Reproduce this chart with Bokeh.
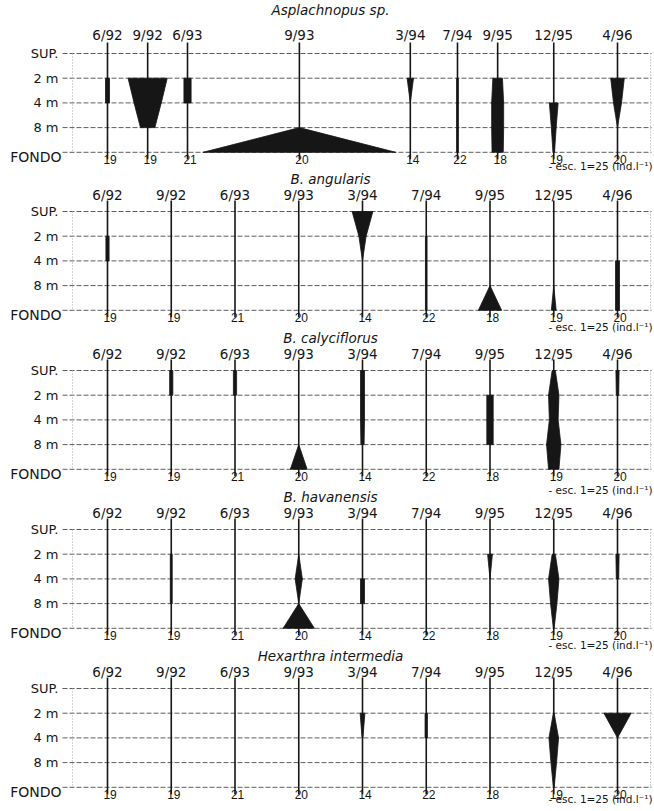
import math
from bokeh.plotting import figure
from bokeh.models import Range1d
from bokeh.core.properties import value
from bokeh.embed import file_html
from bokeh.resources import INLINE

nan = float("nan")

# ---------------- data ----------------
dates = ["6/92", "9/92", "6/93", "9/93", "3/94", "7/94", "9/95", "12/95", "4/96"]
n_samples = ["19", "19", "21", "20", "14", "22", "18", "19", "20"]
depths = ["SUP.", "2 m", "4 m", "8 m", "FONDO"]
species = ["Asplachnopus sp.", "B. angularis", "B. calyciflorus",
           "B. havanensis", "Hexarthra intermedia"]
scale_note = "- esc. 1=25 (ind.l\u207b\u00b9)"

# sampling positions along the horizontal axis (first panel is irregular)
pos_first = [0.0, 0.63, 1.255, 3.01, 4.75, 5.49, 6.12, 7.0, 8.0]
pos_other = [0, 1, 2, 3, 4, 5, 6, 7, 8]

# abundance (ind/l) per date, at SUP, 2 m, 4 m, 8 m, FONDO ; nan = not drawn
asplachnopus = [
    [nan, 25, 25, nan, nan],
    [nan, 245, 170, 90, nan],
    [nan, 45, 45, nan, nan],
    [nan, nan, nan, 0, 1205],
    [nan, 40, 0, nan, nan],
    [nan, 11, 11, 11, 11],
    [nan, 60, 75, 75, 70],
    [nan, nan, 55, 30, 10],
    [nan, 85, 50, 0, nan],
]
angularis = [
    [nan, 20, 20, nan, nan],
    [nan, nan, nan, nan, nan],
    [nan, nan, nan, nan, nan],
    [nan, nan, nan, nan, nan],
    [130, 45, 0, nan, nan],
    [nan, 10, 10, 10, 10],
    [nan, nan, nan, 0, 145],
    [nan, nan, nan, 0, 30],
    [nan, nan, 25, 25, 25],
]
calyciflorus = [
    [nan, nan, nan, nan, nan],
    [20, 20, nan, nan, nan],
    [20, 20, nan, nan, nan],
    [nan, nan, nan, 0, 105],
    [25, 25, 25, 20, nan],
    [nan, nan, nan, nan, nan],
    [nan, 40, 40, 40, nan],
    [20, 65, 55, 90, 65],
    [20, 15, nan, nan, nan],
]
havanensis = [
    [nan, nan, nan, nan, nan],
    [nan, 12, 12, 12, nan],
    [nan, nan, nan, nan, nan],
    [nan, 0, 45, 0, 195],
    [nan, nan, 25, 25, nan],
    [nan, nan, nan, nan, nan],
    [nan, 30, 0, nan, nan],
    [nan, 20, 65, 40, 5],
    [nan, 20, 15, nan, nan],
]
hexarthra = [
    [nan, nan, nan, nan, nan],
    [nan, nan, nan, nan, nan],
    [nan, nan, nan, nan, nan],
    [nan, nan, nan, nan, nan],
    [nan, 30, 5, nan, nan],
    [nan, 15, 15, nan, nan],
    [nan, nan, nan, nan, nan],
    [nan, 5, 60, 35, 5],
    [nan, 170, 0, nan, nan],
]
panels_data = [asplachnopus, angularis, calyciflorus, havanensis, hexarthra]
panel_positions = [pos_first, pos_other, pos_other, pos_other, pos_other]

# ---------------- layout ----------------
W, H = 654, 811
X0 = 107.0           # page x of position 0
XU = 63.75           # page px per position unit
PX_PER_IND = 0.16    # full kite width in px per ind/l
SUP_Y = [53, 211, 370, 529, 688]
DY = 24.7
ESC_DY = [14, 17, 21, 17, 12]


def xu(px):
    return (px - X0) / XU


p = figure(width=W, height=H, x_range=Range1d(xu(0), xu(W)),
           y_range=Range1d(H, 0), output_backend="svg",
           toolbar_location=None, x_axis_type=None, y_axis_type=None,
           min_border=0, min_border_left=0, min_border_right=0,
           min_border_top=0, min_border_bottom=0)
p.outline_line_color = None
p.grid.visible = False
p.background_fill_color = "white"
p.border_fill_color = "white"

FONT = value("DejaVu Sans")
INK = "#161616"

for k in range(5):
    top = SUP_Y[k]
    lv = [top + i * DY for i in range(5)]
    pos = panel_positions[k]
    data = panels_data[k]

    # horizontal depth lines
    gx0, gx1 = xu(62), xu(651)
    p.multi_line(xs=[[gx0, gx1]] * 5, ys=[[y, y] for y in lv],
                 line_color="#5e5e5e", line_width=1, line_dash="5 2")
    # frame borders
    p.multi_line(xs=[[xu(72), xu(72)], [xu(650), xu(650)]],
                 ys=[[lv[0], lv[4]], [lv[0], lv[4]]],
                 line_color="#a8a8a8", line_width=1, line_dash="1 2")

    # vertical sample lines
    p.segment(x0=pos, x1=pos, y0=[lv[0] - 11] * 9, y1=[lv[4] + 7] * 9,
              line_color=INK, line_width=1.6)

    # kites
    xs, ys = [], []
    for j, vals in enumerate(data):
        for i in range(4):
            a, b = vals[i], vals[i + 1]
            if math.isnan(a) or math.isnan(b):
                continue
            ha = a * PX_PER_IND / 2 / XU
            hb = b * PX_PER_IND / 2 / XU
            x = pos[j]
            xs.append([x - ha, x + ha, x + hb, x - hb])
            ys.append([lv[i], lv[i], lv[i + 1], lv[i + 1]])
    p.patches(xs=xs, ys=ys, fill_color=INK, line_color=INK, line_width=0.8)

    # depth labels
    p.text(x=[xu(58)] * 4, y=lv[:4], text=depths[:4], text_align="right",
           text_baseline="middle", text_font=FONT, text_font_size="13px",
           text_color=INK)
    p.text(x=[xu(61)], y=[lv[4] + 5], text=depths[4:], text_align="right",
           text_baseline="middle", text_font=FONT, text_font_size="14px",
           text_color=INK)
    # date labels
    dy_date = 19 if k == 0 else 17
    p.text(x=pos, y=[top - dy_date] * 9, text=dates, text_align="center",
           text_baseline="middle", text_font=FONT, text_font_size="13.5px",
           text_color=INK)
    # bottom sample counts
    p.text(x=[v + 0.04 for v in pos], y=[lv[4] + 7] * 9, text=n_samples,
           text_align="center", text_baseline="middle",
           text_font=value("Liberation Sans"), text_font_size="12px",
           text_color=INK)
    # species title
    dy_title = 44 if k == 0 else 33
    p.text(x=[xu(330)], y=[top - dy_title], text=[species[k]],
           text_align="center", text_baseline="middle", text_font=FONT,
           text_font_style="italic", text_font_size="13.5px", text_color=INK)
    # scale note
    p.text(x=[xu(652)], y=[lv[4] + ESC_DY[k]], text=[scale_note],
           text_align="right", text_baseline="middle", text_font=FONT,
           text_font_size="10.5px", text_color=INK)

open("out.html", "w").write(file_html(p, INLINE))
